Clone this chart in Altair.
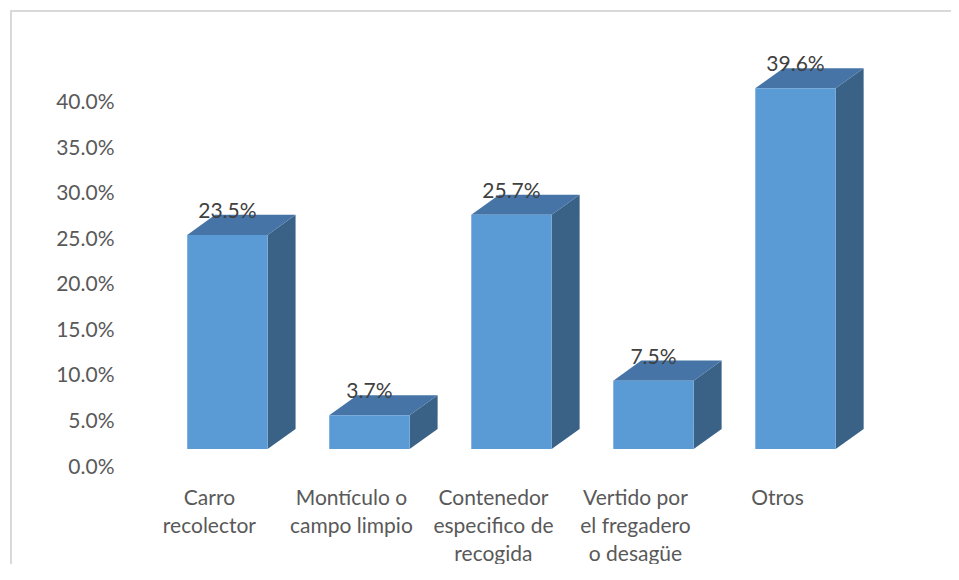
import altair as alt
import pandas as pd

# ---- data ----
categories = [
    "Carro\nrecolector",
    "Montículo o\ncampo limpio",
    "Contenedor\nespecifico de\nrecogida",
    "Vertido por\nel fregadero\no desagüe",
    "Otros",
]
values = [0.235, 0.037, 0.257, 0.075, 0.396]
value_labels = ["23.5%", "3.7%", "25.7%", "7.5%", "39.6%"]
y_ticks = [0.0, 0.05, 0.10, 0.15, 0.20, 0.25, 0.30, 0.35, 0.40]

# ---- 3D bar geometry (in data units) ----
HALF = 0.283   # half width of the front face (x units)
DX = 0.197     # depth offset to the right (x units)
DY = 0.022     # depth offset upward (y units)

idx = list(range(len(values)))

front = pd.DataFrame({
    "i": idx,
    "xl": [i - HALF for i in idx],
    "xr": [i + HALF for i in idx],
    "v": values,
})

side_rows, top_rows = [], []
for i, v in zip(idx, values):
    side_rows.append({"i": i, "x": i + HALF, "y": v, "y2": 0.0})
    side_rows.append({"i": i, "x": i + HALF + DX, "y": v + DY, "y2": DY})
    top_rows.append({"i": i, "y": v, "x": i - HALF, "x2": i + HALF})
    top_rows.append({"i": i, "y": v + DY, "x": i - HALF + DX, "x2": i + HALF + DX})
side = pd.DataFrame(side_rows)
top = pd.DataFrame(top_rows)

labels = pd.DataFrame({"i": idx, "y": [v + DY for v in values], "t": value_labels})
cats = pd.DataFrame({"i": idx, "c": categories})

FONT = "Lato"
W, H = 774, 410
xs = alt.Scale(domain=[-0.7, 4.75], nice=False, zero=False)
ys = alt.Scale(domain=[0, 0.45], nice=False)

FRONT_C = "#5B9BD5"
TOP_C = "#4674A6"
SIDE_C = "#3A6287"

y_axis = alt.Axis(
    values=y_ticks, format=".1%", title=None, domain=False, ticks=False,
    tickSize=0, grid=False, labelPadding=14, labelOffset=18,
    labelFont=FONT, labelFontSize=21, labelColor="#595959")

side_layer = alt.Chart(side).mark_area(color=SIDE_C, orient="vertical").encode(
    x=alt.X("x:Q", scale=xs, axis=None),
    y=alt.Y("y:Q", scale=ys, axis=y_axis),
    y2="y2:Q",
    detail="i:N",
)

top_layer = alt.Chart(top).mark_area(color=TOP_C, orient="horizontal").encode(
    y=alt.Y("y:Q", scale=ys, title=None),
    x=alt.X("x:Q", scale=xs, axis=None),
    x2="x2:Q",
    detail="i:N",
)

front_layer = alt.Chart(front).mark_bar(color=FRONT_C).encode(
    x=alt.X("xl:Q", scale=xs, axis=None),
    x2="xr:Q",
    y=alt.Y("v:Q", scale=ys, title=None),
    y2=alt.datum(0),
)

text_layer = alt.Chart(labels).mark_text(
    font=FONT, fontSize=21, color="#404040", baseline="alphabetic", dy=3
).encode(
    x=alt.X("i:Q", scale=xs, axis=None),
    y=alt.Y("y:Q", scale=ys, title=None),
    text="t:N",
)

cat_layer = alt.Chart(cats).mark_text(
    font=FONT, fontSize=21, color="#595959", baseline="top", lineBreak="\n",
    lineHeight=28, dx=-18
).encode(
    x=alt.X("i:Q", scale=xs, axis=None),
    y=alt.value(H + 39),
    text="c:N",
)

frame_left = alt.Chart(pd.DataFrame({"a": [0]})).mark_rule(
    color="#D9D9D9", strokeWidth=2
).encode(x=alt.value(-117), y=alt.value(-29), y2=alt.value(600))

frame_top = alt.Chart(pd.DataFrame({"a": [0]})).mark_rule(
    color="#D9D9D9", strokeWidth=2
).encode(x=alt.value(-118), x2=alt.value(900), y=alt.value(-28))

chart = alt.layer(
    side_layer, top_layer, front_layer, text_layer, cat_layer, frame_left, frame_top
).properties(
    width=W, height=H,
    autosize=alt.AutoSizeParams(type="none"),
    padding={"left": 120, "top": 31, "right": 49, "bottom": 115},
    background="white",
).configure_view(stroke=None)

chart.save("out.html", embed_options={"renderer": "svg", "actions": False})
